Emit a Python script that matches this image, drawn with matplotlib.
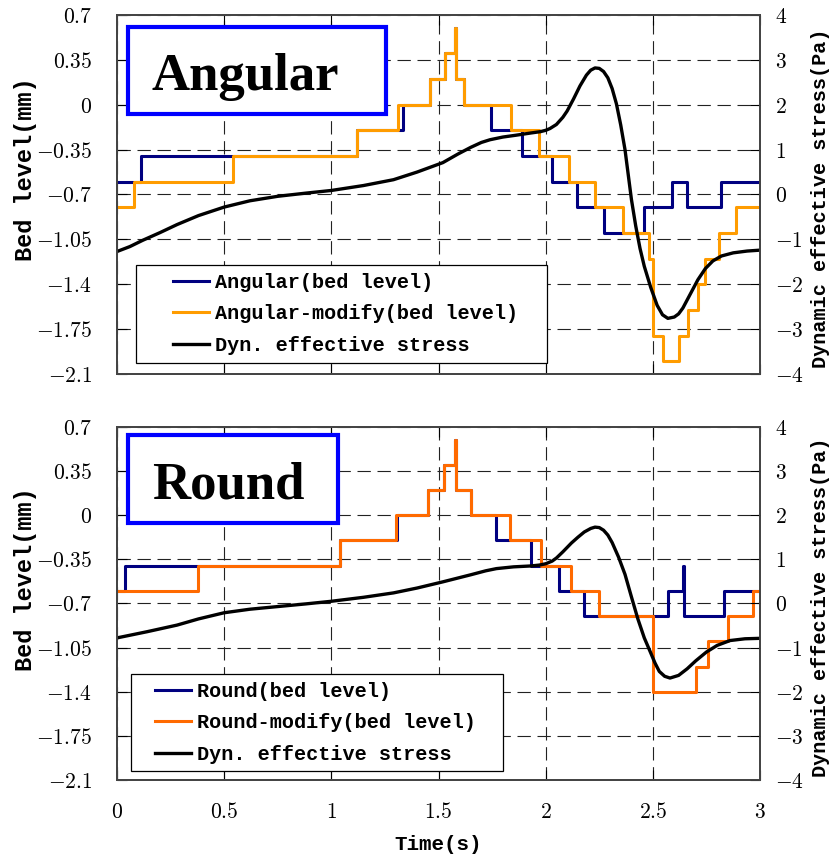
import matplotlib
matplotlib.use('Agg')
import matplotlib.pyplot as plt
from matplotlib.patches import Rectangle

plt.rcParams['mathtext.fontset'] = 'cm'

LABEL_FONT = 'Liberation Mono'

# axes ticks
time_ticks = [0, 0.5, 1, 1.5, 2, 2.5, 3]
time_tick_labels = ['0', '0.5', '1', '1.5', '2', '2.5', '3']
bed_ticks = [0.7, 0.35, 0, -0.35, -0.7, -1.05, -1.4, -1.75, -2.1]
bed_tick_labels = ['0.7', '0.35', '0', '-0.35', '-0.7', '-1.05', '-1.4', '-1.75', '-2.1']
stress_ticks = [4, 3, 2, 1, 0, -1, -2, -3, -4]
stress_tick_labels = ['4', '3', '2', '1', '0', '-1', '-2', '-3', '-4']

# Angular panel: bed level steps (time where level starts, level in mm)
ang_t = [0, 0.112, 1.12, 1.335, 1.46, 1.53, 1.575, 1.58, 1.62, 1.745, 1.89,
         2.03, 2.145, 2.27, 2.46, 2.59, 2.66, 2.82, 3.0]
ang_bed = [-0.6, -0.4, -0.2, 0, 0.2, 0.4, 0.6, 0.2, 0, -0.2, -0.4,
           -0.6, -0.8, -1.0, -0.8, -0.6, -0.8, -0.6, -0.6]
ang_mod_t = [0, 0.079, 0.54, 1.12, 1.31, 1.46, 1.53, 1.575, 1.58, 1.62, 1.84,
             1.97, 2.11, 2.23, 2.36, 2.48, 2.50, 2.545, 2.62, 2.665, 2.71,
             2.745, 2.81, 2.89, 3.0]
ang_mod_bed = [-0.8, -0.6, -0.4, -0.2, 0, 0.2, 0.4, 0.6, 0.2, 0, -0.2,
               -0.4, -0.6, -0.8, -1.0, -1.2, -1.8, -2.0, -1.8, -1.6, -1.4,
               -1.2, -1.0, -0.8, -0.8]
ang_stress_t = [0, 0.06, 0.12, 0.2, 0.28, 0.38, 0.5, 0.62, 0.75, 0.88, 1.0,
                1.15, 1.29, 1.4, 1.52, 1.59, 1.65, 1.70, 1.74, 1.80, 1.86,
                1.93, 1.975, 2.0, 2.02, 2.05, 2.08, 2.1, 2.13, 2.16, 2.19,
                2.21, 2.23, 2.25, 2.27, 2.29, 2.31, 2.33, 2.35, 2.37, 2.40,
                2.42, 2.44, 2.46, 2.49, 2.52, 2.545, 2.57, 2.60, 2.62, 2.64,
                2.68, 2.71, 2.745, 2.78, 2.82, 2.875, 2.94, 3.0]
ang_stress = [-1.27, -1.16, -1.02, -0.85, -0.67, -0.47, -0.28, -0.14, -0.04, 0.03, 0.09,
              0.2, 0.33, 0.5, 0.71, 0.9, 1.05, 1.16, 1.22, 1.28, 1.32,
              1.37, 1.4, 1.43, 1.47, 1.56, 1.72, 1.86, 2.13, 2.42, 2.66,
              2.77, 2.82, 2.81, 2.74, 2.6, 2.36, 2.02, 1.55, 1.0, -0.11,
              -0.7, -1.2, -1.6, -2.07, -2.47, -2.68, -2.76, -2.73, -2.66, -2.53,
              -2.17, -1.9, -1.65, -1.48, -1.37, -1.3, -1.26, -1.24]

# Round panel
rnd_t = [0, 0.037, 1.04, 1.305, 1.45, 1.525, 1.575, 1.58, 1.65, 1.77, 1.93,
         2.06, 2.18, 2.571, 2.64, 2.645, 2.83, 3.0]
rnd_bed = [-0.6, -0.4, -0.2, 0, 0.2, 0.4, 0.6, 0.2, 0, -0.2, -0.4,
           -0.6, -0.8, -0.6, -0.4, -0.8, -0.6, -0.6]
rnd_mod_t = [0, 0.38, 1.04, 1.30, 1.45, 1.525, 1.575, 1.58, 1.65, 1.835, 1.98,
             2.12, 2.25, 2.50, 2.70, 2.755, 2.85, 2.965, 3.0]
rnd_mod_bed = [-0.6, -0.4, -0.2, 0, 0.2, 0.4, 0.6, 0.2, 0, -0.2, -0.4,
               -0.6, -0.8, -1.4, -1.2, -1.0, -0.8, -0.6, -0.6]
rnd_stress_t = [0, 0.14, 0.28, 0.38, 0.5, 0.62, 0.75, 0.88, 1.0, 1.15, 1.29,
                1.4, 1.52, 1.65, 1.72, 1.77, 1.85, 1.93, 1.97, 2.0, 2.03,
                2.05, 2.08, 2.12, 2.15, 2.18, 2.21, 2.23, 2.25, 2.27, 2.29,
                2.31, 2.34, 2.37, 2.40, 2.43, 2.46, 2.49, 2.51, 2.53, 2.555,
                2.58, 2.62, 2.66, 2.70, 2.75, 2.80, 2.86, 2.93, 3.0]
rnd_stress = [-0.78, -0.64, -0.49, -0.35, -0.21, -0.13, -0.07, -0.01, 0.05, 0.14, 0.24,
              0.35, 0.49, 0.65, 0.74, 0.79, 0.83, 0.85, 0.87, 0.9, 0.96,
              1.03, 1.17, 1.37, 1.5, 1.62, 1.7, 1.73, 1.72, 1.66, 1.55,
              1.38, 1.05, 0.66, 0.15, -0.35, -0.78, -1.12, -1.35, -1.54, -1.65,
              -1.69, -1.63, -1.48, -1.3, -1.1, -0.95, -0.84, -0.8, -0.79]


def mtext(labels):
    return ['$' + s + '$' for s in labels]


def draw_panel(ax, name, t1, b1, t2, b2, ts, s, mod_color,
               box_w, legend_box, handle_x, show_x):
    ax.step(t1, b1, where='post', color='#000080', lw=2.2)
    ax.step(t2, b2, where='post', color=mod_color, lw=2.2)
    ax.set_xlim(0, 3)
    ax.set_ylim(-2.1, 0.7)
    ax.set_xticks(time_ticks, labels=mtext(time_tick_labels))
    ax.set_yticks(bed_ticks, labels=mtext(bed_tick_labels))
    ax.grid(True, color='#222222', lw=0.8, ls=(0, (12, 6)))
    ax.tick_params(direction='in', length=7, top=True, labelsize=15.5)
    ax.tick_params(axis='y', pad=18)
    ax.tick_params(axis='x', pad=16, labelbottom=show_x)

    ax2 = ax.twinx()
    ax2.plot(ts, s, color='black', lw=2.4)
    ax2.set_ylim(-4, 4)
    ax2.set_yticks(stress_ticks, labels=mtext(stress_tick_labels))
    ax2.tick_params(direction='in', length=7, pad=11, labelsize=15.5)
    for a in (ax, ax2):
        for sp in a.spines.values():
            sp.set_color('#444444')
            sp.set_linewidth(1.3)

    ax.set_ylabel('Bed level(mm)', fontsize=17, family=LABEL_FONT, weight='bold')
    ax.yaxis.set_label_coords(-0.124, 0.57)
    ax2.set_ylabel('Dynamic effective stress(Pa)', fontsize=14.5,
                   family=LABEL_FONT, weight='bold')
    ax2.yaxis.set_label_coords(1.08, 0.49)

    # title box
    ax2.add_patch(Rectangle((0.017, box_w[1]), box_w[0], box_w[2],
                            transform=ax.transAxes, fc='white', ec='#0000FF',
                            lw=3, zorder=5))
    ax2.text(0.054, box_w[1] + 0.068, name, transform=ax.transAxes,
             family='Liberation Serif', weight='bold', fontsize=38,
             va='baseline', ha='left', zorder=6)

    # legend box
    lx, ly, lw_, lh = legend_box
    ax2.add_patch(Rectangle((lx, ly), lw_, lh, transform=ax.transAxes,
                            fc='white', ec='black', lw=0.9, zorder=5))
    h1, = ax.plot([], [], color='#000080', lw=2.2)
    h2, = ax.plot([], [], color=mod_color, lw=2.2)
    h3, = ax.plot([], [], color='black', lw=2.4)
    leg = ax2.legend([h1, h2, h3],
                     [name + '(bed level)', name + '-modify(bed level)',
                      'Dyn. effective stress'],
                     loc='upper left', bbox_to_anchor=(handle_x, ly + lh - 0.022),
                     frameon=False, borderpad=0, borderaxespad=0,
                     handlelength=1.8, handletextpad=0.3, labelspacing=0.62,
                     prop={'family': LABEL_FONT, 'weight': 'bold', 'size': 14.5})
    leg.set_zorder(6)
    return ax2


fig = plt.figure(figsize=(8.33, 8.61), dpi=100)
ax_top = fig.add_axes([0.1405, 0.5656, 0.7719, 0.417])
ax_bot = fig.add_axes([0.1405, 0.0941, 0.7719, 0.410])

draw_panel(ax_top, 'Angular', ang_t, ang_bed, ang_mod_t, ang_mod_bed,
           ang_stress_t, ang_stress, '#FF9C00',
           (0.401, 0.724, 0.243), (0.030, 0.031, 0.639, 0.273), 0.087, False)
draw_panel(ax_bot, 'Round', rnd_t, rnd_bed, rnd_mod_t, rnd_mod_bed,
           rnd_stress_t, rnd_stress, '#FF6A00',
           (0.327, 0.728, 0.249), (0.022, 0.025, 0.578, 0.275), 0.059, True)

ax_bot.set_xlabel('Time(s)', fontsize=15, family=LABEL_FONT, weight='bold')
ax_bot.xaxis.set_label_coords(0.5, -0.155)

fig.savefig('out.png', dpi=100)
